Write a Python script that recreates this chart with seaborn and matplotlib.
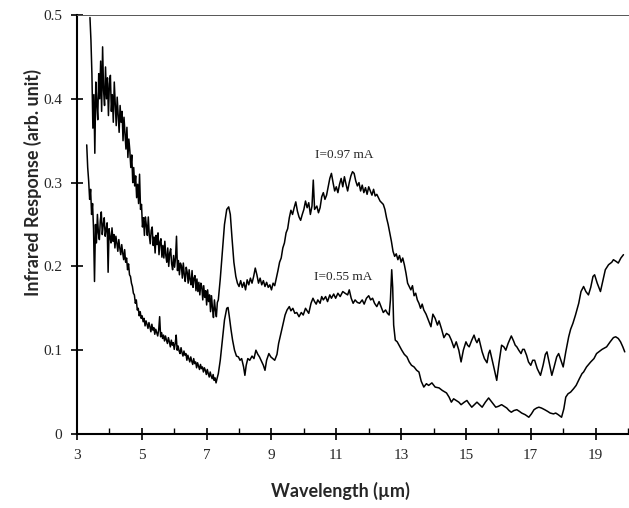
import matplotlib
matplotlib.use("Agg")
import matplotlib.pyplot as plt
import seaborn as sns
import pandas as pd
from matplotlib.ticker import FixedLocator

# ---------------- data ----------------
upper_x = [3.40, 3.43, 3.46, 3.49, 3.52, 3.55, 3.58, 3.61, 3.64, 3.67, 3.70, 3.73, 3.76, 3.79, 3.82, 3.85, 3.88, 3.91, 3.94, 3.97,
           4.00, 4.03, 4.06, 4.09, 4.12, 4.15, 4.18, 4.21, 4.24, 4.27, 4.30, 4.33, 4.36, 4.39, 4.42, 4.45, 4.48, 4.51, 4.54, 4.57,
           4.60, 4.63, 4.66, 4.69, 4.72, 4.75, 4.78, 4.81, 4.84, 4.87, 4.90, 4.93, 4.96, 4.99, 5.02, 5.05, 5.08, 5.11, 5.14, 5.17,
           5.20, 5.23, 5.26, 5.29, 5.32, 5.35, 5.38, 5.41, 5.44, 5.47, 5.50, 5.53, 5.56, 5.59, 5.62, 5.65, 5.68, 5.71, 5.74, 5.77,
           5.80, 5.83, 5.86, 5.89, 5.92, 5.95, 5.98, 6.01, 6.04, 6.07, 6.10, 6.13, 6.16, 6.19, 6.22, 6.25, 6.28, 6.31, 6.34, 6.37,
           6.40, 6.43, 6.46, 6.49, 6.52, 6.55, 6.58, 6.61, 6.64, 6.67, 6.70, 6.73, 6.76, 6.79, 6.82, 6.85, 6.88, 6.91, 6.94, 6.97,
           7.00, 7.03, 7.06, 7.09, 7.12, 7.15, 7.18, 7.21, 7.24, 7.27, 7.30, 7.33,
           7.36, 7.42, 7.48, 7.55, 7.62, 7.68, 7.73, 7.78, 7.84, 7.90, 7.95, 8.00, 8.05, 8.10, 8.15, 8.20, 8.25, 8.30, 8.35, 8.40,
           8.45, 8.50, 8.55, 8.60, 8.65, 8.70, 8.75, 8.80, 8.85, 8.90, 8.95, 9.00, 9.05, 9.10, 9.15, 9.20, 9.25, 9.30, 9.35, 9.40,
           9.45, 9.50, 9.55, 9.60, 9.65, 9.70, 9.75, 9.80, 9.85, 9.90, 9.95, 10.00, 10.05, 10.10, 10.15, 10.20, 10.25, 10.29, 10.33, 10.40,
           10.45, 10.50, 10.55, 10.60, 10.65, 10.70, 10.75, 10.80, 10.85, 10.90, 10.95, 11.00, 11.05, 11.10, 11.15, 11.20, 11.25, 11.30, 11.35, 11.40,
           11.45, 11.50, 11.55, 11.60, 11.65, 11.70, 11.75, 11.80, 11.85, 11.90, 11.95, 12.00, 12.05, 12.10, 12.15, 12.20, 12.25, 12.30, 12.35, 12.40,
           12.45, 12.50, 12.55, 12.60, 12.65, 12.70, 12.75, 12.80, 12.85, 12.90, 12.95, 13.00, 13.05, 13.10, 13.15, 13.20, 13.25, 13.30, 13.35, 13.40,
           13.45, 13.50, 13.55, 13.60, 13.65, 13.70, 13.77, 13.85, 13.92, 13.98, 14.05, 14.12, 14.17, 14.25, 14.32, 14.40, 14.48, 14.55, 14.63, 14.70,
           14.78, 14.85, 14.92, 15.00, 15.05, 15.10, 15.18, 15.25, 15.30, 15.34, 15.40, 15.45, 15.50, 15.57, 15.65, 15.70, 15.74, 15.80, 15.87, 15.95,
           16.02, 16.10, 16.17, 16.23, 16.30, 16.40, 16.47, 16.52, 16.57, 16.63, 16.70, 16.75, 16.80, 16.87, 16.93, 17.00, 17.06, 17.12, 17.20, 17.30,
           17.38, 17.45, 17.50, 17.57, 17.65, 17.72, 17.80, 17.86, 17.93, 18.00, 18.08, 18.17, 18.23, 18.30, 18.38, 18.48, 18.55, 18.63, 18.70, 18.78,
           18.85, 18.92, 18.97, 19.05, 19.15, 19.22, 19.30, 19.40, 19.50, 19.55, 19.63, 19.70, 19.78, 19.86]
upper_y = [0.497, 0.470, 0.430, 0.365, 0.405, 0.335, 0.420, 0.395, 0.375, 0.430, 0.400, 0.445, 0.385, 0.462, 0.410, 0.392, 0.438, 0.400, 0.425, 0.380,
           0.418, 0.428, 0.385, 0.405, 0.372, 0.420, 0.395, 0.368, 0.402, 0.382, 0.360, 0.392, 0.372, 0.385, 0.350, 0.378, 0.360, 0.340, 0.366, 0.330,
           0.352, 0.338, 0.318, 0.333, 0.300, 0.318, 0.296, 0.308, 0.282, 0.298, 0.275, 0.310, 0.268, 0.274, 0.247, 0.258, 0.237, 0.259, 0.249, 0.237,
           0.259, 0.237, 0.227, 0.243, 0.247, 0.225, 0.235, 0.216, 0.237, 0.226, 0.240, 0.214, 0.229, 0.233, 0.211, 0.225, 0.210, 0.230, 0.213, 0.205,
           0.222, 0.200, 0.216, 0.221, 0.203, 0.196, 0.213, 0.199, 0.210, 0.236, 0.195, 0.207, 0.190, 0.204, 0.201, 0.186, 0.204, 0.190, 0.182, 0.199,
           0.193, 0.180, 0.196, 0.184, 0.178, 0.195, 0.175, 0.186, 0.189, 0.171, 0.185, 0.170, 0.181, 0.166, 0.180, 0.176, 0.160, 0.177, 0.163, 0.171,
           0.154, 0.172, 0.158, 0.166, 0.146, 0.165, 0.150, 0.139, 0.160, 0.148, 0.140, 0.157,
           0.160, 0.185, 0.215, 0.250, 0.268, 0.271, 0.262, 0.235, 0.205, 0.188, 0.180, 0.176, 0.183, 0.175, 0.181, 0.172, 0.184, 0.178, 0.186, 0.180,
           0.188, 0.198, 0.190, 0.180, 0.186, 0.178, 0.183, 0.176, 0.181, 0.175, 0.178, 0.172, 0.180, 0.177, 0.186, 0.195, 0.205, 0.210, 0.222, 0.228,
           0.240, 0.245, 0.258, 0.267, 0.262, 0.270, 0.277, 0.266, 0.259, 0.255, 0.262, 0.268, 0.278, 0.270, 0.276, 0.262, 0.272, 0.303, 0.268, 0.272,
           0.264, 0.270, 0.283, 0.288, 0.280, 0.285, 0.295, 0.305, 0.311, 0.300, 0.290, 0.295, 0.288, 0.298, 0.305, 0.295, 0.307, 0.298, 0.290, 0.300,
           0.308, 0.313, 0.311, 0.302, 0.296, 0.300, 0.290, 0.297, 0.288, 0.294, 0.286, 0.295, 0.290, 0.285, 0.292, 0.284, 0.286, 0.282, 0.278, 0.276,
           0.274, 0.268, 0.258, 0.250, 0.240, 0.230, 0.218, 0.212, 0.215, 0.208, 0.213, 0.205, 0.210, 0.202, 0.192, 0.180, 0.176, 0.172, 0.177, 0.165,
           0.168, 0.160, 0.156, 0.150, 0.155, 0.148, 0.143, 0.135, 0.128, 0.143, 0.138, 0.130, 0.135, 0.125, 0.115, 0.120, 0.118, 0.112, 0.103, 0.110,
           0.100, 0.086, 0.100, 0.110, 0.106, 0.104, 0.112, 0.118, 0.112, 0.109, 0.114, 0.106, 0.098, 0.090, 0.085, 0.096, 0.100, 0.090, 0.078, 0.064,
           0.085, 0.106, 0.104, 0.100, 0.108, 0.117, 0.111, 0.106, 0.104, 0.100, 0.096, 0.101, 0.101, 0.094, 0.086, 0.082, 0.088, 0.088, 0.078, 0.070,
           0.082, 0.095, 0.098, 0.085, 0.070, 0.080, 0.092, 0.096, 0.088, 0.080, 0.098, 0.116, 0.125, 0.132, 0.142, 0.156, 0.170, 0.176, 0.170, 0.166,
           0.175, 0.188, 0.190, 0.180, 0.170, 0.182, 0.196, 0.202, 0.205, 0.208, 0.206, 0.204, 0.210, 0.214]

lower_x = [3.30, 3.33, 3.36, 3.39, 3.42, 3.45, 3.48, 3.51, 3.54, 3.57, 3.60, 3.63, 3.66, 3.69, 3.72, 3.75, 3.78, 3.81, 3.84, 3.87,
           3.90, 3.93, 3.96, 3.99, 4.02, 4.05, 4.08, 4.11, 4.14, 4.17, 4.20, 4.23, 4.26, 4.29, 4.32, 4.35, 4.38, 4.41, 4.44, 4.47,
           4.50, 4.53, 4.56, 4.59, 4.62, 4.65, 4.68, 4.71, 4.74, 4.77, 4.80, 4.83, 4.86, 4.89, 4.92, 4.95, 4.98, 5.01, 5.04, 5.07,
           5.10, 5.13, 5.16, 5.19, 5.22, 5.25, 5.28, 5.31, 5.34, 5.37, 5.40, 5.43, 5.46, 5.49, 5.52, 5.55, 5.58, 5.61, 5.64, 5.67,
           5.70, 5.73, 5.76, 5.79, 5.82, 5.85, 5.88, 5.91, 5.94, 5.97, 6.00, 6.03, 6.06, 6.09, 6.12, 6.15, 6.18, 6.21, 6.24, 6.27,
           6.30, 6.33, 6.36, 6.39, 6.42, 6.45, 6.48, 6.51, 6.54, 6.57, 6.60, 6.63, 6.66, 6.69, 6.72, 6.75, 6.78, 6.81, 6.84, 6.87,
           6.90, 6.93, 6.96, 6.99, 7.02, 7.05, 7.08, 7.11, 7.14, 7.17, 7.20, 7.23, 7.26, 7.29, 7.32,
           7.36, 7.42, 7.48, 7.55, 7.62, 7.66, 7.70, 7.75, 7.80, 7.86, 7.92, 7.98, 8.03, 8.08, 8.14, 8.18, 8.22, 8.27, 8.33, 8.40,
           8.46, 8.52, 8.58, 8.63, 8.70, 8.75, 8.80, 8.85, 8.92, 8.98, 9.04, 9.10, 9.17, 9.22, 9.28, 9.35, 9.42, 9.48, 9.55, 9.60,
           9.66, 9.72, 9.78, 9.85, 9.92, 9.98, 10.05, 10.10, 10.15, 10.22, 10.28, 10.33, 10.38, 10.43, 10.50, 10.55, 10.60, 10.67, 10.73, 10.80,
           10.85, 10.92, 10.98, 11.05, 11.12, 11.20, 11.27, 11.35, 11.40, 11.46, 11.52, 11.58, 11.65, 11.72, 11.80, 11.86, 11.93, 12.00, 12.06, 12.12,
           12.18, 12.25, 12.32, 12.38, 12.45, 12.52, 12.58, 12.63, 12.67, 12.71, 12.74, 12.77, 12.82, 12.88, 12.95, 13.02, 13.10, 13.18, 13.25, 13.32,
           13.40, 13.48, 13.55, 13.62, 13.70, 13.78, 13.85, 13.95, 14.05, 14.17, 14.27, 14.40, 14.48, 14.55, 14.62, 14.70, 14.78, 14.85, 14.95, 15.03,
           15.10, 15.18, 15.26, 15.34, 15.42, 15.50, 15.60, 15.70, 15.80, 15.92, 16.00, 16.10, 16.18, 16.26, 16.33, 16.40, 16.48, 16.57, 16.65, 16.72,
           16.83, 16.94, 17.02, 17.10, 17.18, 17.25, 17.33, 17.43, 17.52, 17.60, 17.70, 17.77, 17.85, 17.95, 18.02, 18.08, 18.15, 18.23, 18.32, 18.40,
           18.50, 18.58, 18.63, 18.72, 18.85, 18.95, 19.03, 19.10, 19.20, 19.34, 19.45, 19.55, 19.62, 19.70, 19.77, 19.84, 19.90]
lower_y = [0.345, 0.318, 0.302, 0.280, 0.292, 0.262, 0.275, 0.245, 0.182, 0.250, 0.228, 0.262, 0.240, 0.232, 0.255, 0.265, 0.238, 0.250, 0.258, 0.236,
           0.245, 0.252, 0.193, 0.245, 0.235, 0.228, 0.246, 0.230, 0.238, 0.222, 0.236, 0.228, 0.218, 0.232, 0.222, 0.214, 0.226, 0.216, 0.208, 0.220,
           0.205, 0.210, 0.196, 0.203, 0.190, 0.188, 0.180, 0.176, 0.168, 0.166, 0.156, 0.160, 0.148, 0.150, 0.141, 0.146, 0.138, 0.141, 0.134, 0.138,
           0.129, 0.135, 0.131, 0.126, 0.133, 0.128, 0.122, 0.131, 0.124, 0.127, 0.119, 0.125, 0.121, 0.117, 0.124, 0.140, 0.116, 0.121, 0.114, 0.118,
           0.111, 0.117, 0.112, 0.108, 0.115, 0.110, 0.104, 0.112, 0.106, 0.109, 0.101, 0.108, 0.118, 0.100, 0.105, 0.099, 0.096, 0.103, 0.097, 0.093,
           0.099, 0.094, 0.096, 0.088, 0.094, 0.090, 0.086, 0.092, 0.087, 0.083, 0.090, 0.084, 0.086, 0.079, 0.085, 0.081, 0.077, 0.083, 0.078, 0.080,
           0.074, 0.079, 0.076, 0.071, 0.077, 0.072, 0.068, 0.074, 0.069, 0.066, 0.071, 0.064, 0.067, 0.061, 0.066,
           0.072, 0.088, 0.110, 0.136, 0.150, 0.151, 0.140, 0.125, 0.112, 0.100, 0.093, 0.092, 0.088, 0.090, 0.080, 0.070, 0.082, 0.090, 0.088, 0.093,
           0.090, 0.100, 0.095, 0.092, 0.086, 0.082, 0.076, 0.088, 0.096, 0.092, 0.090, 0.088, 0.095, 0.108, 0.118, 0.130, 0.142, 0.148, 0.152, 0.147,
           0.150, 0.144, 0.145, 0.140, 0.145, 0.142, 0.150, 0.147, 0.144, 0.156, 0.162, 0.158, 0.155, 0.160, 0.156, 0.164, 0.160, 0.164, 0.158, 0.166,
           0.162, 0.167, 0.162, 0.168, 0.164, 0.170, 0.168, 0.166, 0.172, 0.162, 0.156, 0.160, 0.157, 0.156, 0.160, 0.155, 0.162, 0.165, 0.160, 0.162,
           0.156, 0.152, 0.158, 0.152, 0.145, 0.148, 0.144, 0.142, 0.160, 0.196, 0.175, 0.130, 0.112, 0.110, 0.105, 0.100, 0.095, 0.092, 0.086, 0.082,
           0.080, 0.076, 0.074, 0.063, 0.056, 0.060, 0.058, 0.061, 0.056, 0.055, 0.052, 0.049, 0.044, 0.038, 0.042, 0.040, 0.038, 0.035, 0.038, 0.040,
           0.036, 0.032, 0.035, 0.038, 0.035, 0.032, 0.038, 0.043, 0.038, 0.032, 0.033, 0.035, 0.033, 0.031, 0.028, 0.026, 0.028, 0.029, 0.027, 0.025,
           0.023, 0.020, 0.024, 0.029, 0.031, 0.032, 0.031, 0.029, 0.027, 0.025, 0.024, 0.025, 0.023, 0.020, 0.030, 0.044, 0.048, 0.050, 0.054, 0.058,
           0.066, 0.072, 0.074, 0.080, 0.086, 0.090, 0.096, 0.098, 0.101, 0.104, 0.110, 0.115, 0.116, 0.114, 0.110, 0.104, 0.098]

series_labels = ["I=0.97 mA", "I=0.55 mA"]
x_ticks = [3, 5, 7, 9, 11, 13, 15, 17, 19]
x_minor = [4, 6, 8, 10, 12, 14, 16, 18, 20]
y_ticks = [0, 0.1, 0.2, 0.3, 0.4, 0.5]
y_tick_labels = ["0", "0.1", "0.2", "0.3", "0.4", "0.5"]

# ---------------- figure ----------------
sns.set_theme(style="white")
plt.rcParams["font.family"] = ["Liberation Serif", "DejaVu Serif"]

fig = plt.figure(figsize=(6.29, 5.08), dpi=100)
ax = fig.add_axes([77 / 629, (508 - 434) / 508, (628 - 77) / 629, (434 - 15) / 508])

df_u = pd.DataFrame({"x": upper_x, "y": upper_y})
df_l = pd.DataFrame({"x": lower_x, "y": lower_y})
sns.lineplot(data=df_u, x="x", y="y", ax=ax, color="black", lw=1.1,
             sort=False, estimator=None)
sns.lineplot(data=df_l, x="x", y="y", ax=ax, color="black", lw=1.1,
             sort=False, estimator=None)

ax.set_xlim(3, 20.0)
ax.set_ylim(0, 0.5)

ax.set_xticks(x_ticks)
ax.set_xticklabels([str(t) for t in x_ticks], fontsize=11)
ax.xaxis.set_minor_locator(FixedLocator(x_minor))
ax.set_yticks(y_ticks)
ax.set_yticklabels(y_tick_labels, fontsize=11)

ax.tick_params(axis="both", which="major", direction="inout", length=9,
               width=1.2, color="black", bottom=True, left=True, pad=6)
ax.tick_params(axis="x", which="minor", direction="in", length=4,
               width=1.0, color="black", bottom=True)

for side in ["left", "bottom"]:
    ax.spines[side].set_color("black")
    ax.spines[side].set_linewidth(1.5)
ax.spines["top"].set_color("#555555")
ax.spines["top"].set_linewidth(0.7)
ax.spines["right"].set_visible(False)

ax.text(11.25, 0.333, series_labels[0], fontsize=9.5, ha="center", va="center")
ax.text(11.2, 0.187, series_labels[1], fontsize=9.5, ha="center", va="center")

label_font = {"family": ["Lato", "DejaVu Sans"], "weight": "bold", "size": 13}
ax.set_xlabel("Wavelength (\u00b5m)", fontdict=label_font)
ax.set_ylabel("Infrared Response (arb. unit)", fontdict=label_font)
ax.xaxis.set_label_coords(0.478, -0.135)
ax.yaxis.set_label_coords(-0.08, 0.60)
ax.xaxis.label.set_va("center")
ax.yaxis.label.set_va("center")

fig.savefig("out.png", dpi=100)
